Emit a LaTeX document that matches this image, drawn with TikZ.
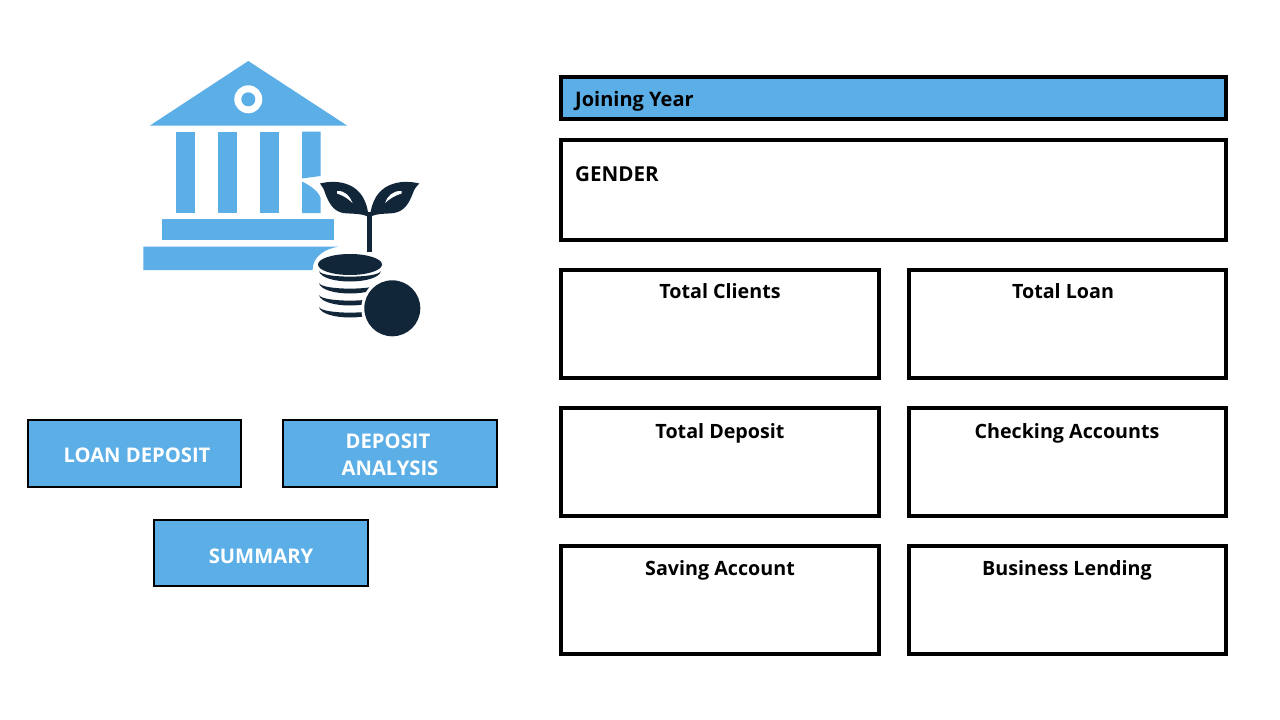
\documentclass[tikz,border=0pt]{standalone}
\usepackage{fontspec}
\setmainfont{Open Sans}
\definecolor{bankblue}{HTML}{5BAEE6}
\definecolor{bankdark}{HTML}{12263A}
\tikzset{
  panel/.style={draw=black,line width=4pt,inner sep=0pt},
  menubtn/.style={draw=black,line width=2pt,fill=bankblue,minimum width=213.6pt,minimum height=66.7pt,inner sep=0pt},
  paneltext/.style={anchor=base,font=\fontsize{19.7}{24}\selectfont\bfseries,text=black},
  btntext/.style={anchor=base,font=\fontsize{20.2}{24}\selectfont\bfseries,text=white},
}
\begin{document}
\begin{tikzpicture}[x=1pt,y=-1pt]
  \useasboundingbox (0,0) rectangle (1280,720);
  % bank building
  \fill[bankblue] (248.3,61)--(347,125.5)--(150,125.5)--cycle;
  \fill[white] (248.3,99.3) circle (14);
  \fill[bankblue] (248.3,99.3) circle (7);
  \foreach \x in {176,218,260}{
    \fill[bankblue] (\x,131.5) rectangle ++(19,81.5);
  }
  \fill[bankblue] (302,131.5)--(320.7,131.5)--(320.7,176)--(302,178.5)--cycle;
  \fill[bankblue] (302,181.5) .. controls (311,186) and (318,191) .. (320.7,198)--(320.7,213)--(302,213)--cycle;
  \fill[bankblue] (162.3,219.3) rectangle (334.3,240);
  \fill[bankblue] (143.3,246.7)--(338,246.7) .. controls (325,249) and (313,256) .. (312.5,270)--(143.3,270)--cycle;
  % sprout
  \draw[bankdark,line width=5pt] (369.3,252)--(369.3,212);
  \fill[bankdark] (320,183.5) .. controls (338,179) and (366,182) .. (368.5,217)
    .. controls (362,213) and (350,214) .. (343,213)
    .. controls (333,211) and (329,203) .. (325,193) .. controls (324,189) and (322,186) .. cycle;
  \fill[bankdark] (419.3,183.5) .. controls (401,179) and (373,182) .. (370,217)
    .. controls (377,213) and (387,214) .. (394,213)
    .. controls (405,211) and (409,203) .. (413,193) .. controls (414,189) and (417,186) .. cycle;
  \fill[white] (337,191) .. controls (345,190.5) and (350,196) .. (352.5,203)
    .. controls (348,198.5) and (343,195.5) .. (337,193.5) -- cycle;
  \fill[white] (401.5,191) .. controls (393,190.5) and (387.5,196) .. (385,203)
    .. controls (390,198.5) and (395,195.5) .. (401.5,193.5) -- cycle;
  % coins
  \foreach \y in {271,283,295,307}{
    \fill[bankdark] (319,\y) .. controls (322,\y+14) and (378,\y+14) .. (381,\y)
      .. controls (378,\y+7.5) and (322,\y+7.5) .. cycle;
  }
  \fill[bankdark] (350,264.5) ellipse[x radius=32,y radius=10.5];
  \fill[white] (392.3,308.3) circle (31);
  \fill[bankdark] (392.3,308.3) circle (28);
  % menu buttons
  \node[menubtn] (loan) at (134.5,453.3) {};
  \node[menubtn] (analysis) at (390,453.3) {};
  \node[menubtn] (summary) at (261.2,553) {};
  \node[btntext] (loanlbl) at (137,462) {LOAN DEPOSIT};
  \node[btntext] (analysislbl) at (388,448) {DEPOSIT};
  \node[btntext] (analysislbltwo) at (390,475) {ANALYSIS};
  \node[btntext] (summarylbl) at (261,563) {SUMMARY};
  % right panels
  \node[panel,fill=bankblue,minimum width=665pt,minimum height=41.7pt] (year) at (893.5,97.9) {};
  \node[panel,minimum width=665pt,minimum height=100pt] (gender) at (893.5,190) {};
  \node[paneltext,anchor=base west,font=\fontsize{20}{24}\selectfont\bfseries] (yearlbl) at (571.7,106) {Joining Year};
  \node[paneltext,anchor=base west,font=\fontsize{20.6}{24}\selectfont\bfseries] (genderlbl) at (571.7,181) {GENDER};
  \foreach \name/\x/\y/\lx/\ly/\txt in {
    clients/719.9/324/720/298/Total Clients,
    loanbox/1067.4/324/1063/298/Total Loan,
    deposit/719.9/462/720/438/Total Deposit,
    checking/1067.4/462/1067/438/Checking Accounts,
    saving/719.9/600/720/575/Saving Account,
    lending/1067.4/600/1067/575/Business Lending}{
    \node[panel,minimum width=317.7pt,minimum height=108pt] (\name) at (\x,\y) {};
    \node[paneltext] (\name lbl) at (\lx,\ly) {\txt};
  }
\end{tikzpicture}
\end{document}
